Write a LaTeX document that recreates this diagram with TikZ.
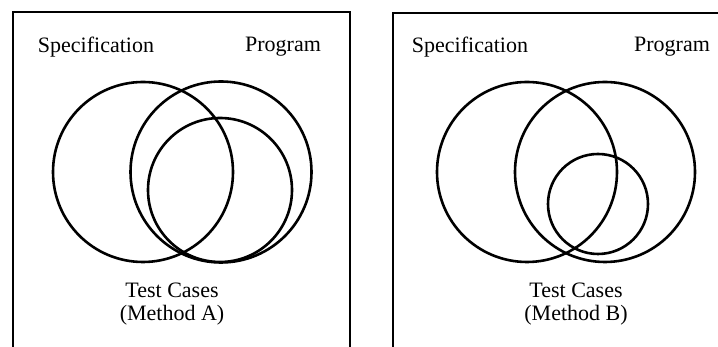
\documentclass[tikz,border=0pt]{standalone}
\usepackage{fontspec}
\setmainfont{Liberation Serif}
\begin{document}
\begin{tikzpicture}[x=1pt,y=1pt]

\tikzset{
  set circle/.style={
    draw,
    circle,
    line width=2.6pt,
    inner sep=0pt,
  },
  set label/.style={
    inner sep=1pt,
    font=\fontsize{22}{23}\selectfont,
    align=center,
  },
  frame/.style={
    line width=2pt,
  }
}

\useasboundingbox (0,0) rectangle (718,347);
\clip (0,0) rectangle (718,347);

% Frames (open at the bottom and on the right)
\draw[frame] (13,-20) rectangle (350,335);
\draw[frame] (393,-20) rectangle (740,334);

% Method A
\node[set label] (specA) at (96,300) {Specification};
\node[set label] (progA) at (283,300) {Program};

\node[set circle, minimum size=180pt] (setspecA) at (143,175) {};
\node[set circle, minimum size=181pt] (setprogA) at (221,175) {};
\node[set circle, minimum size=144pt] (settestA) at (220,157) {};

\node[set label] (testA) at (172,43) {Test Cases\\(Method A)};

% Method B
\node[set label] (specB) at (470,300) {Specification};
\node[set label] (progB) at (672,300) {Program};

\node[set circle, minimum size=180pt] (setspecB) at (527,175) {};
\node[set circle, minimum size=180pt] (setprogB) at (605,175) {};
\node[set circle, minimum size=100pt] (settestB) at (598,143) {};

\node[set label] (testB) at (576,43) {Test Cases\\(Method B)};

\end{tikzpicture}
\end{document}
